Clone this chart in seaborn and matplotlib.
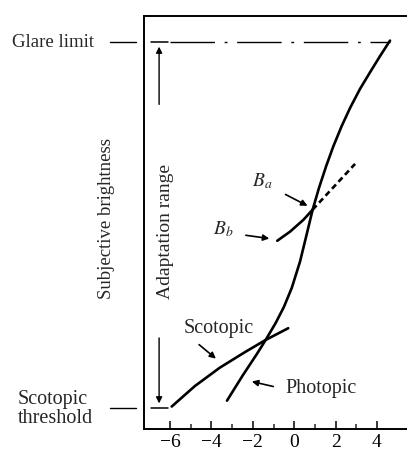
import matplotlib
matplotlib.use("Agg")
import matplotlib.pyplot as plt
import seaborn as sns
import pandas as pd

# curves (x = log luminance, y = subjective brightness)
photopic_x = [-3.25, -2.50, -1.80, -1.38, -0.90, -0.50, -0.12, 0.28, 0.60, 0.89, 1.20,
              1.55, 1.89, 2.29, 2.70, 3.18, 3.66, 4.14, 4.63]
photopic_y = [0.20, 0.88, 1.48, 1.86, 2.32, 2.76, 3.28, 4.00, 4.74, 5.42, 6.02,
              6.62, 7.15, 7.70, 8.20, 8.72, 9.17, 9.61, 10.04]
scotopic_x = [-5.92, -4.80, -3.60, -2.40, -1.38, -0.29]
scotopic_y = [0.04, 0.60, 1.10, 1.52, 1.86, 2.18]
bb_x = [-0.82, -0.20, 0.44, 0.89]
bb_y = [4.57, 4.82, 5.14, 5.42]
bb_dash_x = [0.89, 2.94]
bb_dash_y = [5.42, 6.67]
glare_y = 10
threshold_y = 0
xticks = [-6, -4, -2, 0, 2, 4]
xtick_labels = ["\u22126", "\u22124", "\u22122", "0", "2", "4"]
minor_ticks = [-5, -3, -1, 1, 3]

sns.set_style("ticks")
plt.rcParams['font.family'] = ['Liberation Serif', 'DejaVu Serif']
plt.rcParams['mathtext.fontset'] = 'stix'

fig = plt.figure(figsize=(4.07, 4.59), dpi=100)
ax = fig.add_axes([0.3538, 0.066, 0.6462, 0.899])

photopic = pd.DataFrame({"x": photopic_x, "y": photopic_y})
scotopic = pd.DataFrame({"x": scotopic_x, "y": scotopic_y})
bb = pd.DataFrame({"x": bb_x, "y": bb_y})
bb_dash = pd.DataFrame({"x": bb_dash_x, "y": bb_dash_y})

sns.lineplot(data=photopic, x="x", y="y", ax=ax, color="black", lw=1.9, sort=False)
sns.lineplot(data=scotopic, x="x", y="y", ax=ax, color="black", lw=1.9, sort=False)
sns.lineplot(data=bb, x="x", y="y", ax=ax, color="black", lw=1.9, sort=False)
sns.lineplot(data=bb_dash, x="x", y="y", ax=ax, color="black", lw=1.9, sort=False)
ax.lines[-1].set_dashes([2.2, 1.4])
for line in ax.lines:
    line.set_solid_joinstyle("round")

# glare limit dash-dot line
ax.plot([-6.0, photopic_x[-1]], [glare_y, glare_y], color="black", lw=1.0,
        dashes=[32, 7, 2, 7], dash_capstyle="butt")

# adaptation range arrows with end bars
ax.plot([-6.92, -6.10], [glare_y, glare_y], color="black", lw=1.1)
ax.plot([-6.92, -6.10], [threshold_y, threshold_y], color="black", lw=1.1)
ax.annotate("", xy=(-6.53, glare_y - 0.05), xytext=(-6.53, 8.22),
            arrowprops=dict(arrowstyle="-|>", color="black", lw=1.0, mutation_scale=9))
ax.annotate("", xy=(-6.53, threshold_y + 0.05), xytext=(-6.53, 1.99),
            arrowprops=dict(arrowstyle="-|>", color="black", lw=1.0, mutation_scale=9))
ax.text(0.080, 0.479, "Adaptation range", transform=ax.transAxes, rotation=90,
        ha="center", va="center", fontsize=14)

# labels with arrows
arrow = dict(arrowstyle="-|>", color="black", lw=1.2, mutation_scale=9)
ax.text(-1.56, 6.20, "$B_a$", fontsize=14, ha="center", va="center")
ax.annotate("", xy=(0.76, 5.49), xytext=(-0.54, 5.87), arrowprops=arrow)
ax.text(-3.44, 4.89, "$B_b$", fontsize=14, ha="center", va="center")
ax.annotate("", xy=(-1.07, 4.62), xytext=(-2.47, 4.73), arrowprops=arrow)
ax.text(-3.63, 2.16, "Scotopic", fontsize=14.5, ha="center", va="center")
ax.annotate("", xy=(-3.68, 1.30), xytext=(-4.70, 1.78), arrowprops=arrow)
ax.text(-0.44, 0.52, "Photopic", fontsize=14.5, ha="left", va="center")
ax.annotate("", xy=(-2.18, 0.74), xytext=(-0.88, 0.57), arrowprops=arrow)

# left-side labels outside the axes
yx = ax.get_yaxis_transform()
ax.text(-0.502, glare_y, "Glare limit", transform=yx, ha="left", va="center",
        fontsize=13.5, clip_on=False)
ax.plot([-0.129, -0.030], [glare_y, glare_y], transform=yx, color="black",
        lw=1.0, clip_on=False)
ax.text(-0.479, -0.03, "Scotopic\nthreshold", transform=yx, ha="left",
        va="center", fontsize=14.5, linespacing=1.05, clip_on=False)
ax.plot([-0.129, -0.030], [threshold_y, threshold_y], transform=yx, color="black",
        lw=1.0, clip_on=False)

ax.set_ylabel("Subjective brightness", fontsize=13.5)
ax.yaxis.set_label_coords(-0.11, 0.51)
ax.set_xlabel("")

ax.set_xlim(-7.26, 5.45)
ax.set_ylim(-0.566, 10.71)
ax.set_xticks(xticks)
ax.set_xticklabels(xtick_labels, fontsize=14)
ax.set_xticks(minor_ticks, minor=True)
ax.set_yticks([])
ax.tick_params(axis="x", which="major", direction="in", length=6, width=1.1, pad=4, colors="black")
ax.tick_params(axis="x", which="minor", direction="in", length=3.5, width=1.1)
for s in ["left", "top", "bottom"]:
    ax.spines[s].set_linewidth(1.4)
    ax.spines[s].set_color("black")
ax.spines["right"].set_visible(False)

fig.savefig("out.png", dpi=100)
